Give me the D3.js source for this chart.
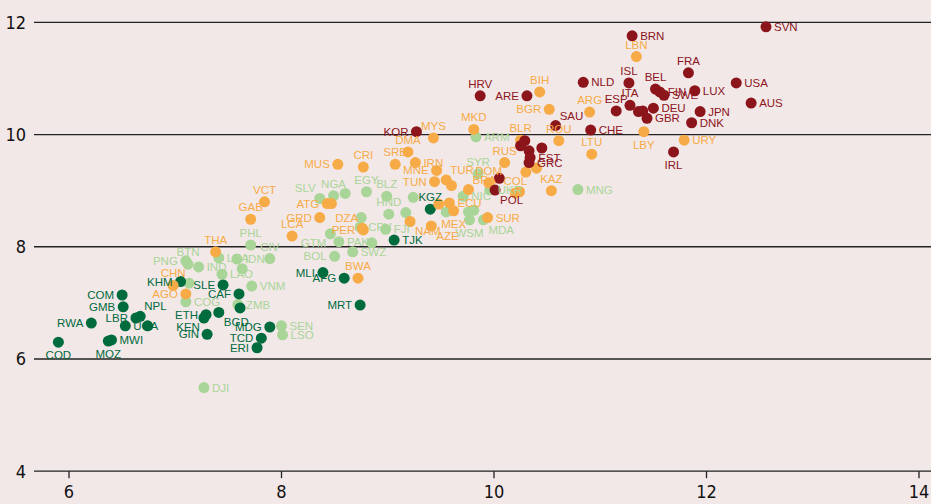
<!DOCTYPE html>
<html>
<head>
<meta charset="utf-8">
<script src="https://cdn.jsdelivr.net/npm/d3@7"></script>
<style>
  body { margin: 0; background: #f3e8e8; }
  svg { display: block; }
  .axis text { font-family: "Liberation Sans Narrow", "DejaVu Sans Condensed", sans-serif; font-size: 18px; fill: #111; }
  .lbl { font-family: "Liberation Sans", Arial, sans-serif; font-size: 11.5px; }
</style>
</head>
<body>
<svg id="scatter" width="931" height="504"></svg>
<script>
// high income (dark red)
var highCodes = ["SVN","BRN","FRA","ISL","NLD","USA","BEL","FIN","SWE","LUX","ITA","ESP","","","DEU","GBR","JPN","DNK","AUS","CHE","SAU","IRL","HRV","ARE","KOR","","","","","EST","GRC","","POL"];
var highX = [12.56,11.30,11.83,11.27,10.84,12.28,11.52,11.56,11.60,11.89,11.28,11.15,11.36,11.40,11.50,11.44,11.94,11.86,12.42,10.91,10.58,11.69,9.87,10.31,9.27,10.29,10.25,10.45,10.33,10.34,10.33,10.05,10.01];
var highY = [11.92,11.76,11.10,10.92,10.93,10.92,10.81,10.76,10.70,10.78,10.52,10.42,10.41,10.42,10.47,10.29,10.41,10.21,10.56,10.08,10.16,9.69,10.69,10.69,10.05,9.89,9.80,9.76,9.71,9.59,9.50,9.22,9.01];

// upper-middle income (orange)
var upperCodes = ["LBN","BIH","BGR","ARG","MKD","ROU","BLR","LTU","LBY","URY","MYS","DMA","CRI","MUS","SRB","IRN","MNE","TUN","TUR","","BRA","RUS","DOM","COL","","","","KAZ","SUR","ECU","","MEX","NAM","AZE","PER","DZA","GRD","ATG","","LCA","VCT","GAB","THA","CHN","AGO","BWA"];
var upperX = [11.34,10.43,10.52,10.90,9.81,10.61,10.25,10.92,11.41,11.79,9.43,9.19,8.77,8.53,9.07,9.26,9.46,9.44,9.55,9.60,9.76,10.10,9.95,10.20,10.24,10.30,10.40,10.54,9.94,9.58,9.48,9.62,9.21,9.41,8.77,8.76,8.36,8.43,8.47,8.10,7.84,7.71,7.38,6.98,7.10,8.72];
var upperY = [11.39,10.76,10.45,10.40,10.09,9.89,9.90,9.65,10.05,9.90,9.94,9.69,9.42,9.47,9.47,9.50,9.36,9.16,9.19,9.09,9.02,9.50,9.14,8.96,8.98,9.33,9.40,9.00,8.52,8.78,8.76,8.64,8.45,8.37,8.30,8.33,8.52,8.77,8.77,8.19,8.80,8.49,7.91,7.31,7.16,7.44];

// lower-middle income (light green)
var lowerCodes = ["DJI","SEN","LSO","ZMB","COG","","VNM","LAO","IND","PNG","BTN","IDN","","CIV","PHL","LKA","GTM","BOL","PAK","","SWZ","CPV","FJI","HND","","","BLZ","","EGY","NGA","","SLV","NIC","SYR","ARM","UKR","MNG","","","","WSM","MDA"];
var lowerX = [7.27,8.00,8.01,7.59,7.10,7.13,7.72,7.44,7.22,7.10,7.12,7.58,7.63,7.89,7.71,7.41,8.46,8.50,8.54,8.85,8.67,8.74,8.98,9.01,8.75,9.17,8.99,9.24,8.80,8.49,8.60,8.36,9.71,9.85,9.83,9.96,10.79,9.55,9.76,9.81,9.77,9.90];
var lowerY = [5.49,6.59,6.43,6.97,7.02,7.35,7.30,7.51,7.64,7.75,7.69,7.78,7.61,7.79,8.03,7.80,8.23,7.83,8.09,8.07,7.91,8.35,8.31,8.58,8.52,8.61,8.90,8.88,8.98,8.91,8.95,8.86,8.90,9.30,9.96,9.01,9.02,8.62,8.62,8.65,8.48,8.48];

// low income (dark green)
var lowCodes = ["COD","MOZ","MWI","RWA","COM","GMB","LBR","NPL","UGA","","KHM","SLE","CAF","","ETH","KEN","BGD","GIN","MDG","TCD","ERI","MLI","AFG","MRT","TJK","KGZ"];
var lowX = [5.90,6.37,6.40,6.21,6.50,6.51,6.63,6.67,6.53,6.74,7.05,7.45,7.60,7.61,7.29,7.27,7.41,7.30,7.89,7.81,7.77,8.39,8.59,8.74,9.06,9.40];
var lowY = [6.30,6.32,6.34,6.64,7.14,6.93,6.73,6.76,6.59,6.59,7.38,7.32,7.16,6.91,6.79,6.73,6.83,6.44,6.57,6.37,6.20,7.54,7.44,6.96,8.12,8.67];

var yTicks = [4, 6, 8, 10, 12];
var xTicks = [6, 8, 10, 12, 14];

// where each label sits relative to its dot (default: right)
var labelSide = {
  FRA:"t", ISL:"t", BEL:"t", ITA:"t", ESP:"t", SAU:"tr", IRL:"b", HRV:"t", ARE:"l", KOR:"l", POL:"br",
  LBN:"t", BIH:"t", BGR:"l", ARG:"t", MKD:"t", ROU:"t", BLR:"t", LTU:"t", LBY:"b", MYS:"t", DMA:"t", CRI:"t", MUS:"l",
  SRB:"t", MNE:"l", TUN:"l", TUR:"tr", BRA:"tr", RUS:"t", DOM:"t", COL:"t", KAZ:"t", MEX:"b", NAM:"br", AZE:"br",
  PER:"l", DZA:"tl", GRD:"l", ATG:"l", LCA:"t", VCT:"t", GAB:"t", THA:"t", CHN:"t", AGO:"l", BWA:"t",
  PNG:"l", BTN:"t", CIV:"t", PHL:"t", GTM:"bl", BOL:"l", HND:"t", BLZ:"t", EGY:"t", NGA:"t", SLV:"tl", SYR:"t", WSM:"b", MDA:"br",
  COD:"b", MOZ:"b", RWA:"l", COM:"l", GMB:"l", LBR:"l", NPL:"tr", KHM:"l", SLE:"l", CAF:"l", ETH:"l", KEN:"bl",
  BGD:"br", GIN:"l", MDG:"l", TCD:"l", ERI:"l", MLI:"l", AFG:"l", MRT:"l", KGZ:"t"
};

function makeGroup(codes, xs, ys, color) {
  return codes.map(function(c, i) { return {code: c, x: xs[i], y: ys[i], color: color}; });
}

var data = [].concat(
  makeGroup(lowerCodes, lowerX, lowerY, "#a9d598"),
  makeGroup(lowCodes, lowX, lowY, "#006b3d"),
  makeGroup(upperCodes, upperX, upperY, "#f6ab47"),
  makeGroup(highCodes, highX, highY, "#8c151b")
);

var svg = d3.select("svg#scatter");
svg.append("rect").attr("width", 931).attr("height", 504).attr("fill", "#f3e8e8");

var x = d3.scaleLinear().domain([6, 14]).range([69, 919]);
var y = d3.scaleLinear().domain([4, 12]).range([471.2, 22.3]);

// horizontal grid lines + y labels
var grid = svg.append("g").attr("class", "axis");
grid.selectAll("line")
  .data(yTicks)
  .enter().append("line")
    .attr("x1", 34).attr("x2", 931)
    .attr("y1", function(d) { return y(d); })
    .attr("y2", function(d) { return y(d); })
    .attr("stroke", "#222")
    .attr("stroke-width", 1.3);
grid.selectAll("text")
  .data(yTicks)
  .enter().append("text")
    .attr("x", 26)
    .attr("y", function(d) { return y(d); })
    .attr("dy", "0.36em")
    .attr("text-anchor", "end")
    .text(function(d) { return d; });

// x axis ticks
var xa = svg.append("g").attr("class", "axis");
xa.selectAll("line")
  .data(xTicks)
  .enter().append("line")
    .attr("x1", function(d) { return x(d); })
    .attr("x2", function(d) { return x(d); })
    .attr("y1", y(4)).attr("y2", y(4) + 7)
    .attr("stroke", "#222")
    .attr("stroke-width", 1.3);
xa.selectAll("text")
  .data(xTicks)
  .enter().append("text")
    .attr("x", function(d) { return x(d); })
    .attr("y", 498)
    .attr("text-anchor", "middle")
    .text(function(d) { return d; });

// dots
svg.append("g").selectAll("circle")
  .data(data)
  .enter().append("circle")
    .attr("cx", function(d) { return x(d.x); })
    .attr("cy", function(d) { return y(d.y); })
    .attr("r", 5.5)
    .attr("fill", function(d) { return d.color; });

// labels
var offs = {
  r:  [8, 4, "start"],  l:  [-8, 4, "end"],
  t:  [0, -8, "middle"], b: [0, 17, "middle"],
  tr: [4, -6, "start"], tl: [-4, -6, "end"],
  br: [5, 14, "start"], bl: [-4, 13, "end"]
};
svg.append("g").selectAll("text")
  .data(data.filter(function(d) { return d.code !== ""; }))
  .enter().append("text")
    .attr("class", "lbl")
    .attr("fill", function(d) { return d.color; })
    .attr("x", function(d) { return x(d.x) + offs[labelSide[d.code] || "r"][0]; })
    .attr("y", function(d) { return y(d.y) + offs[labelSide[d.code] || "r"][1]; })
    .attr("text-anchor", function(d) { return offs[labelSide[d.code] || "r"][2]; })
    .text(function(d) { return d.code; });
</script>
</body>
</html>
